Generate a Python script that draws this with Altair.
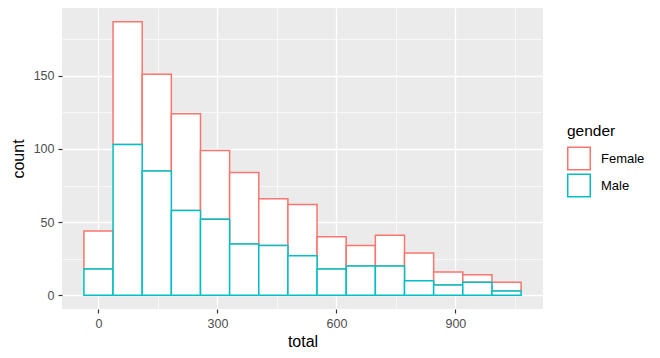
import altair as alt
import pandas as pd

bin_centers = [0, 73.5, 147, 220.5, 294, 367.5, 441, 514.5, 588, 661.5, 735, 808.5, 882, 955.5, 1029]
female_counts = [26, 84, 66, 66, 47, 49, 32, 35, 22, 14, 21, 19, 9, 5, 6]
male_counts = [18, 103, 85, 58, 52, 35, 34, 27, 18, 20, 20, 10, 7, 9, 3]
genders = ["Female", "Male"]
colors = ["#F8766D", "#00BFC4"]
half_bin = 36.75

rows = []
for g, counts in zip(genders, [female_counts, male_counts]):
    for c, n in zip(bin_centers, counts):
        rows.append({"center": c, "count": n, "gender": g,
                     "stack_order": 0 if g == "Male" else 1})
df = pd.DataFrame(rows)

x_values = [0, 150, 300, 450, 600, 750, 900, 1050]
y_values = [0, 25, 50, 75, 100, 125, 150, 175]
FONT = "Liberation Sans"

def major(step):
    return f"datum.value % {step} === 0"

def make_axis(values, step, title, title_pad, label_pad):
    return alt.Axis(
        values=values, title=title,
        labelExpr=f"{major(step)} ? datum.label : ''",
        gridColor="white",
        gridWidth={"condition": {"test": major(step), "value": 1.3}, "value": 0.65},
        tickColor={"condition": {"test": major(step), "value": "#333333"}, "value": "transparent"},
        tickSize=4, tickWidth=1.2, domain=False,
        labelColor="#4D4D4D", labelFontSize=12.5, labelPadding=label_pad,
        labelFont=FONT, titleFont=FONT,
        titleFontSize=16, titleFontWeight="normal", titleColor="black",
        titlePadding=title_pad,
        labelFlush=False, labelOverlap=False,
    )

chart = alt.Chart(df).transform_window(
    cum="sum(count)", groupby=["center"], sort=[alt.SortField("stack_order")],
    frame=[None, 0],
).transform_calculate(
    x0=f"datum.center - {half_bin}", x1=f"datum.center + {half_bin}",
    y0="datum.cum - datum.count",
).mark_rect(fill="white", strokeWidth=1.5).encode(
    x=alt.X("x0:Q", scale=alt.Scale(domain=[-92, 1121], nice=False, zero=False),
            axis=make_axis(x_values, 300, "total", 4, 4)),
    x2="x1:Q",
    y=alt.Y("y0:Q", scale=alt.Scale(domain=[-9.35, 196.35], nice=False, zero=False),
            axis=make_axis(y_values, 50, "count", 7, 4)),
    y2="cum:Q",
    stroke=alt.Stroke("gender:N", scale=alt.Scale(domain=genders, range=colors),
                      legend=alt.Legend(
                          title="gender", orient="none", legendX=505, legendY=116,
                          symbolType="square", symbolSize=506, symbolFillColor="white",
                          symbolStrokeWidth=1.5, rowPadding=-5,
                          titleFont=FONT, titleFontSize=15.5,
                          titleFontWeight="normal", titleColor="black", titlePadding=7,
                          labelFont=FONT, labelFontSize=13, labelColor="black",
                          labelOffset=10)),
).properties(
    width=481, height=301,
    autosize=alt.AutoSizeParams(type="none"),
    padding={"left": 54, "top": 0, "right": 109, "bottom": 41},
).configure_view(fill="#EBEBEB", stroke=None)

chart.save("out.html", embed_options={"renderer": "svg", "actions": False})
